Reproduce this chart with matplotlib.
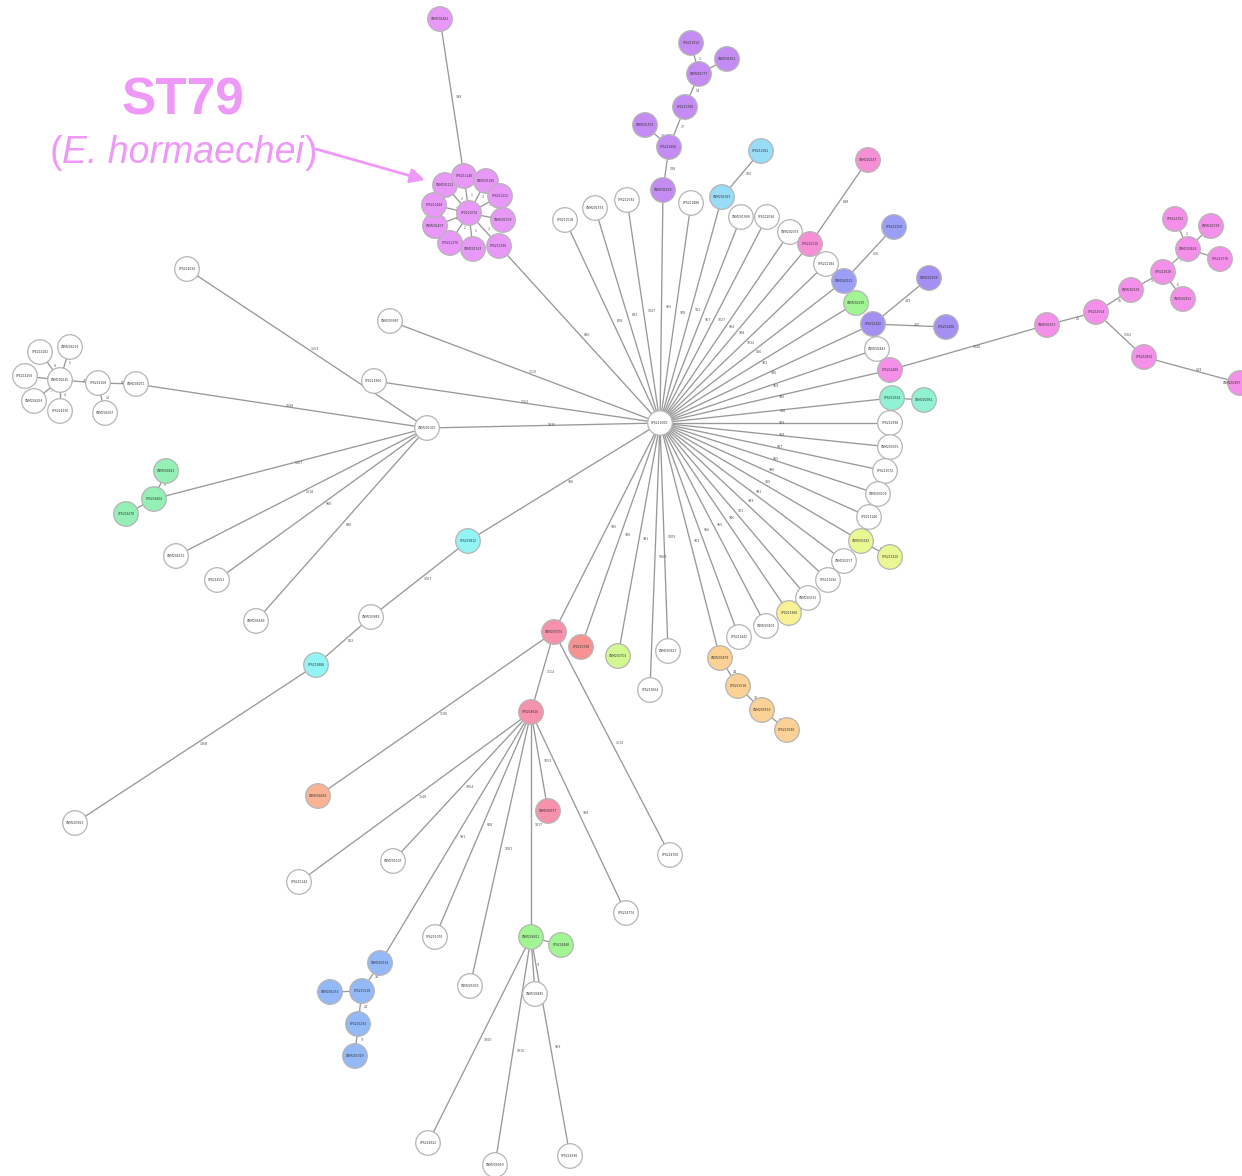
import matplotlib
matplotlib.use("Agg")
import matplotlib.pyplot as plt
from matplotlib.patches import Circle
from matplotlib.collections import LineCollection

# ---------------- data ----------------
# node layout (x, y in layout units, y grows downward) and cluster group
node_x = [660, 427,
          469, 445, 464, 486, 500, 503, 499, 473, 450, 435, 434, 440,
          565, 595, 627, 663, 669, 645, 685, 699, 691, 727, 691, 722, 761,
          741, 767, 790, 810, 868, 826, 844, 894, 856, 873, 929, 946, 877,
          890, 1047, 1096, 1131, 1163, 1188, 1175, 1211, 1220, 1183, 1144, 1240,
          892, 924, 890, 890, 885, 878, 869, 861, 890, 844, 828, 808, 789,
          766, 739, 720, 738, 762, 787, 668, 650, 618, 581, 554, 468, 371,
          316, 75, 374, 390,
          187, 136, 98, 60, 40, 70, 25, 34, 60, 105, 154, 166, 126, 176, 217, 256,
          531, 318, 670, 548, 626, 531, 561, 535, 428, 495, 570, 470, 435,
          393, 299, 380, 362, 330, 358, 355]
node_y = [423, 428,
          213, 185, 176, 181, 196, 220, 246, 249, 243, 226, 205, 19,
          220, 208, 200, 190, 147, 125, 107, 74, 43, 59, 203, 197, 151,
          217, 217, 232, 244, 160, 264, 281, 227, 303, 324, 278, 327, 349,
          370, 325, 312, 290, 272, 249, 219, 226, 259, 299, 357, 383,
          398, 400, 423, 447, 471, 494, 517, 541, 557, 561, 580, 598, 613,
          626, 637, 658, 686, 710, 730, 651, 690, 656, 647, 632, 541, 617,
          665, 823, 381, 321,
          269, 384, 383, 380, 352, 347, 376, 401, 411, 413, 499, 471, 514, 556, 580, 621,
          712, 796, 855, 811, 913, 937, 945, 994, 1143, 1165, 1156, 986, 937,
          861, 882, 963, 991, 992, 1024, 1056]
node_group = ["none", "none",
              "ST79", "ST79", "ST79", "ST79", "ST79", "ST79", "ST79", "ST79", "ST79", "ST79", "ST79", "ST79",
              "none", "none", "none", "purple", "purple", "purple", "purple", "purple", "purple", "purple",
              "none", "sky", "sky",
              "none", "none", "none", "pink", "pink", "none", "periwinkle", "periwinkle", "green",
              "violet", "violet", "violet", "none",
              "magenta", "magenta", "magenta", "magenta", "magenta", "magenta", "magenta", "magenta",
              "magenta", "magenta", "magenta", "magenta",
              "teal", "teal", "none", "none", "none", "none", "none", "khaki", "khaki", "none", "none",
              "none", "yellow",
              "none", "none", "orange", "orange", "orange", "orange", "none", "none", "lime", "salmon",
              "rose", "cyan", "none", "cyan", "none", "none", "none",
              "none", "none", "none", "none", "none", "none", "none", "none", "none", "none",
              "mint", "mint", "mint", "none", "none", "none",
              "rose", "peach", "none", "rose", "none", "green", "green", "none", "none", "none", "none",
              "none", "none", "none", "none", "blue", "blue", "blue", "blue", "blue"]
node_prefix = ["CPS21", "UNM20"]

# edges: (source, target, distance label)
edges = [(2, 3, "2"), (2, 4, "1"), (2, 5, "3"), (2, 6, "1"), (2, 7, "4"), (2, 8, "2"),
         (2, 9, "1"), (2, 10, "2"), (2, 11, "5"), (2, 12, "1"), (13, 4, "298"), (0, 8, "836"),
         (0, 14, "828"), (0, 15, "832"), (0, 16, "1047"), (0, 17, "965"), (17, 18, "238"),
         (18, 19, "12"), (18, 20, "17"), (20, 21, "54"), (21, 22, "3"), (21, 23, "5"),
         (0, 24, "978"), (0, 25, "911"), (25, 26, "182"), (0, 27, "957"), (0, 28, "1027"),
         (0, 29, "904"), (0, 30, "908"), (30, 31, "648"), (0, 32, "1012"), (0, 33, "916"),
         (33, 34, "126"), (0, 35, "902"), (0, 36, "926"), (36, 37, "419"), (36, 38, "200"),
         (0, 39, "958"), (0, 40, "945"), (40, 41, "1046"), (41, 42, "21"), (42, 43, "16"),
         (43, 44, "3"), (44, 45, "7"), (45, 46, "2"), (45, 47, "1"), (45, 48, "4"), (44, 49, "6"),
         (42, 50, "1162"), (50, 51, "619"), (0, 52, "918"), (52, 53, "10"), (0, 54, "939"),
         (0, 55, "958"), (0, 56, "907"), (0, 57, "955"), (0, 58, "996"), (0, 59, "910"),
         (59, 60, "8"), (0, 61, "981"), (0, 62, "999"), (0, 63, "921"), (0, 64, "940"),
         (0, 65, "965"), (0, 66, "956"), (0, 67, "903"), (67, 68, "24"), (68, 69, "31"),
         (69, 70, "6"), (0, 71, "1009"), (0, 72, "1069"), (0, 73, "991"), (0, 74, "936"),
         (0, 75, "935"), (0, 76, "936"), (76, 77, "1267"), (77, 78, "813"), (78, 79, "1368"),
         (0, 80, "1163"), (0, 81, "1110"), (0, 1, "1035"),
         (1, 82, "1253"), (1, 83, "1608"), (83, 84, "56"), (84, 85, "21"), (85, 86, "8"),
         (85, 87, "5"), (85, 88, "9"), (85, 89, "7"), (85, 90, "4"), (84, 91, "13"),
         (1, 92, "1367"), (92, 93, "6"), (92, 94, "11"), (1, 95, "1318"), (1, 96, "980"),
         (1, 97, "838"),
         (75, 98, "1114"), (75, 99, "1190"), (75, 100, "1213"), (98, 101, "1053"),
         (98, 102, "938"), (98, 103, "1017"), (103, 104, "3"), (103, 105, "9"),
         (103, 106, "1000"), (103, 107, "1010"), (103, 108, "959"), (98, 109, "1081"),
         (98, 110, "838"), (98, 111, "1064"), (98, 112, "1148"), (98, 113, "981"),
         (113, 114, "24"), (114, 115, "15"), (114, 116, "20"), (116, 117, "9")]

# ---------------- style ----------------
group_colors = {"none": "#ffffff", "ST79": "#e899f7", "purple": "#c48cf2", "sky": "#98dcf8",
                "pink": "#f690d6", "periwinkle": "#9a9ef5", "green": "#a2f593", "violet": "#a48ff2",
                "magenta": "#f590ea", "teal": "#90f2d2", "khaki": "#eaf893", "yellow": "#f8f295",
                "orange": "#fbd196", "lime": "#d3f892", "salmon": "#f79292", "rose": "#f792ad",
                "cyan": "#93f4f6", "peach": "#fbb396", "mint": "#95f0b5", "blue": "#94b9f7"}
R = 12.3
W, H = 1242, 1176

fig = plt.figure(figsize=(W / 100, H / 100), dpi=100)
ax = fig.add_axes([0, 0, 1, 1])
ax.set_xlim(0, W)
ax.set_ylim(H, 0)
ax.axis("off")

segs = [[(node_x[a], node_y[a]), (node_x[b], node_y[b])] for a, b, _ in edges]
ax.add_collection(LineCollection(segs, colors="#999999", linewidths=0.95, zorder=1))
for a, b, lab in edges:
    mx = (node_x[a] + node_x[b]) / 2
    my = (node_y[a] + node_y[b]) / 2
    ax.text(mx + 4, my, lab, fontsize=2.3, color="#555555", ha="left", va="center", zorder=2)

for i, (x, y, g) in enumerate(zip(node_x, node_y, node_group)):
    ax.add_patch(Circle((x, y), R, facecolor=group_colors[g], edgecolor="#b5b5b5",
                        linewidth=0.9, zorder=3))
    name = f"{node_prefix[i % 2]}{1000 + i * 37:04d}"
    if x + 10 > W:
        ax.text(W - 1, y, name, fontsize=2.2, color="#333333", ha="right", va="center", zorder=4)
    else:
        ax.text(x, y, name, fontsize=2.2, color="#333333", ha="center", va="center", zorder=4)

# annotation
ann_color = "#ee99f8"
ax.text(183, 101, "ST79", fontsize=37, fontweight="bold", color=ann_color,
        family="Liberation Sans", ha="center", va="center")
t1 = ax.text(62, 153, "E. hormaechei", fontsize=27, style="italic", color=ann_color,
             family="Liberation Sans", ha="left", va="center")
ax.text(62, 153, "(", fontsize=27, color=ann_color, family="Liberation Sans",
        ha="right", va="center")
fig.canvas.draw()
bb = t1.get_window_extent().transformed(ax.transData.inverted())
ax.text(bb.x1 + 1, 153, ")", fontsize=27, color=ann_color, family="Liberation Sans",
        ha="left", va="center")
ax.annotate("", xy=(425, 180), xytext=(bb.x1 + 12, 149),
            arrowprops=dict(arrowstyle="-|>", color=ann_color, lw=2, mutation_scale=22,
                            shrinkA=0, shrinkB=0))

fig.savefig("out.png", dpi=100)
